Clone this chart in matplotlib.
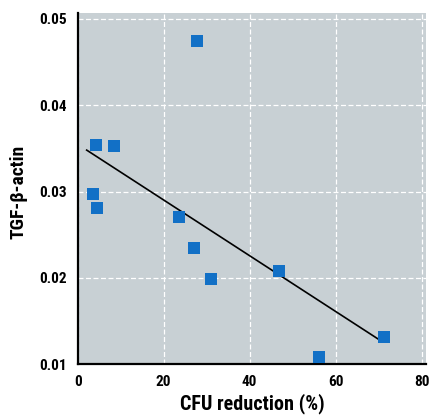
import matplotlib
matplotlib.use('Agg')
from matplotlib import pyplot as plt

# data
cfu_reduction = [27.8, 4.2, 8.5, 3.5, 4.6, 23.6, 27.1, 31.0, 46.9, 56.1, 71.2]
tgf_beta_actin = [0.0475, 0.0354, 0.0353, 0.0297, 0.0281, 0.0271, 0.0235, 0.0199, 0.0208, 0.0108, 0.0131]

# regression line end points
fit_x = [2.1, 70.8]
fit_y = [0.0348, 0.0126]

x_ticks = [0, 20, 40, 60, 80]
y_ticks = [0.01, 0.02, 0.03, 0.04, 0.05]

plt.rcParams['font.family'] = ['Roboto Condensed', 'DejaVu Sans']
plt.rcParams['font.weight'] = 'bold'

fig = plt.figure(figsize=(4.29, 4.17), dpi=100)
ax = fig.add_axes([0.181, 0.127, 0.812, 0.842])
ax.set_facecolor('#c8d0d4')

ax.plot(fit_x, fit_y, color='k', linewidth=1.2, zorder=3)
ax.plot(cfu_reduction, tgf_beta_actin, 's', color='#1270c6', markersize=8.5,
        markeredgewidth=0, zorder=4)

ax.set_xlim(0, 81)
ax.set_ylim(0.01, 0.0507)
ax.set_xticks(x_ticks)
ax.set_yticks(y_ticks)
ax.set_yticklabels(['0.01', '0.02', '0.03', '0.04', '0.05'])
ax.tick_params(length=0, labelsize=11, pad=8)
ax.grid(True, color='white', linestyle=(0, (4, 2)), linewidth=0.9)
ax.set_axisbelow(True)

for side in ['top', 'right']:
    ax.spines[side].set_visible(False)
for side in ['left', 'bottom']:
    ax.spines[side].set_linewidth(1.6)

ax.set_xlabel('CFU reduction (%)', fontsize=14.5, fontweight='bold', labelpad=3)
ax.set_ylabel('TGF-β-actin', fontsize=14, fontweight='bold')
ax.yaxis.set_label_coords(-0.145, 0.49)

fig.savefig('out.png', dpi=100)
